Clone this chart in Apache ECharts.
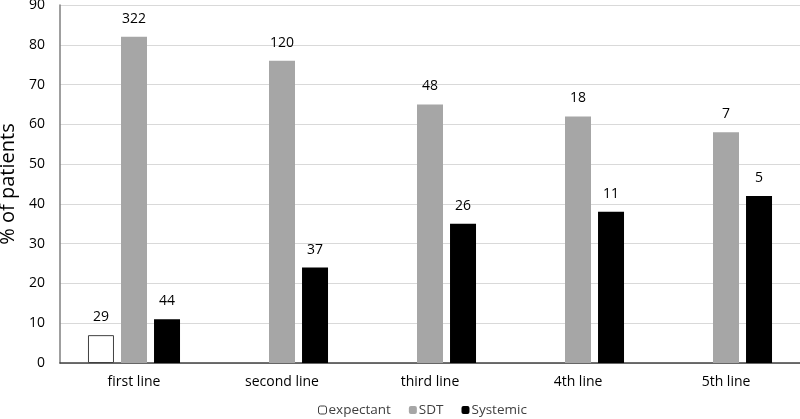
<!DOCTYPE html>
<html>
<head>
<meta charset="utf-8">
<script src="https://cdn.jsdelivr.net/npm/echarts@6/dist/echarts.min.js"></script>
<style>html,body{margin:0;padding:0;background:#fff}#c{width:800px;height:419px}</style>
</head>
<body>
<div id="c"></div>
<script>
var categories = ['first line', 'second line', 'third line', '4th line', '5th line'];
var expectantValues = [7, '-', '-', '-', '-'];
var sdtValues = [82, 76, 65, 62, 58];
var systemicValues = [11, 24, 35, 38, 42];
var expectantCounts = [29, '', '', '', ''];
var sdtCounts = [322, 120, 48, 18, 7];
var systemicCounts = [44, 37, 26, 11, 5];
var yTicks = [0, 10, 20, 30, 40, 50, 60, 70, 80, 90];

var FONT = 'Open Sans';
function lbl(counts) {
  return {
    show: true, position: 'top', distance: 11,
    fontFamily: FONT, fontSize: 14, color: '#000',
    formatter: function (p) { return counts[p.dataIndex]; }
  };
}
var chart = echarts.init(document.getElementById('c'), null, {renderer: 'canvas'});
chart.setOption({
  animation: false,
  grid: {left: 60, right: 0, top: 5, bottom: 56, containLabel: false, outerBoundsMode: 'none'},
  legend: {
    top: 403, left: 318, padding: 0, itemWidth: 8, itemHeight: 8, itemGap: 18,
    textStyle: {fontFamily: FONT, fontSize: 13.5, color: '#404040', padding: [0, 0, 0, -3]},
    data: [
      {name: 'expectant', itemStyle: {color: '#fff', borderColor: '#404040', borderWidth: 1}},
      {name: 'SDT'}, {name: 'Systemic'}
    ]
  },
  xAxis: {
    type: 'category', data: categories,
    axisLine: {lineStyle: {color: '#404040', width: 1.5}},
    axisTick: {show: false},
    axisLabel: {fontFamily: FONT, fontSize: 14, color: '#000', margin: 12}
  },
  yAxis: {
    type: 'value', min: yTicks[0], max: yTicks[yTicks.length - 1], interval: 10,
    name: '% of patients', nameLocation: 'middle', nameGap: 35,
    nameTextStyle: {fontFamily: FONT, fontSize: 20, color: '#000'},
    axisLine: {show: true, lineStyle: {color: '#7f7f7f', width: 1.5}},
    axisTick: {show: false},
    axisLabel: {fontFamily: FONT, fontSize: 14, color: '#000', margin: 15},
    splitLine: {lineStyle: {color: '#d9d9d9', width: 1}}
  },
  series: [
    {name: 'expectant', type: 'bar', data: expectantValues, barWidth: 26, barGap: '27%', barCategoryGap: '38%',
     itemStyle: {color: '#fff', borderColor: '#404040', borderWidth: 1}, label: lbl(expectantCounts)},
    {name: 'SDT', type: 'bar', data: sdtValues, barWidth: 26, barGap: '27%',
     itemStyle: {color: '#a6a6a6'}, label: lbl(sdtCounts)},
    {name: 'Systemic', type: 'bar', data: systemicValues, barWidth: 26, barGap: '27%',
     itemStyle: {color: '#000'}, label: lbl(systemicCounts)}
  ]
});
</script>
</body>
</html>
